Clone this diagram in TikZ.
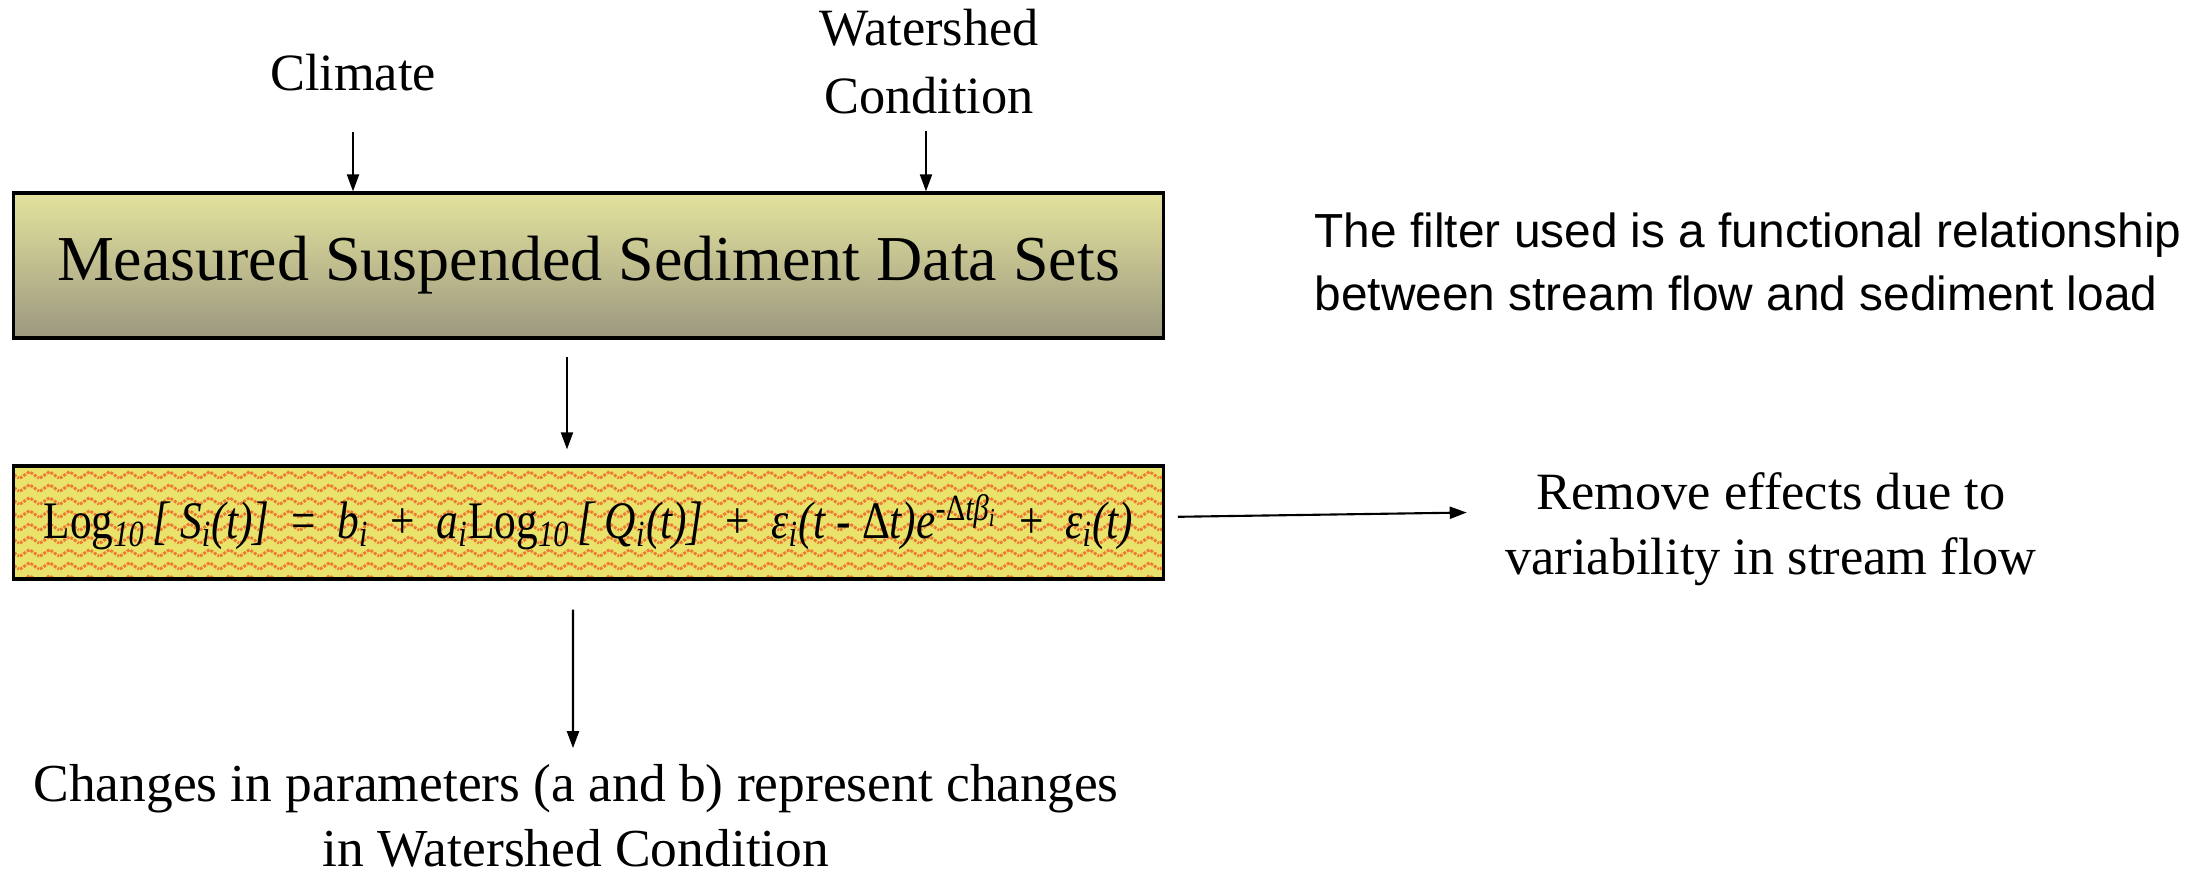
\documentclass[tikz,border=0pt]{standalone}
\usepackage{fontspec}
\setmainfont{Liberation Serif}
\newfontfamily\arialfont{Liberation Sans}
\usetikzlibrary{arrows.meta,patterns}
\definecolor{boxtop}{HTML}{E3E39D}
\definecolor{boxbottom}{HTML}{9C9880}
\definecolor{fyellow}{HTML}{E9E36C}
\definecolor{forange}{HTML}{EF7A32}
\pgfdeclarepatternformonly{zigzag}{\pgfpointorigin}{\pgfqpoint{0.2cm}{0.13cm}}{\pgfqpoint{0.2cm}{0.13cm}}{%
  \pgfsetlinewidth{0.03cm}
  \pgfsetdash{{0.03cm}{0.015cm}}{0cm}
  \pgfpathmoveto{\pgfqpoint{0cm}{0.03cm}}
  \pgfpathlineto{\pgfqpoint{0.1cm}{0.1cm}}
  \pgfpathlineto{\pgfqpoint{0.2cm}{0.03cm}}
  \pgfusepath{stroke}}
\newcommand{\sbi}[1]{\textsubscript{\itshape #1}}
\tikzset{
  arr/.style={-{Triangle[length=0.17cm,width=0.12cm]},line width=0.6pt},
  lbl/.style={font=\fontsize{14.9}{18.5}\selectfont,align=center,inner sep=0pt},
  databox/.style={draw,line width=0.9pt,top color=boxtop,bottom color=boxbottom,
    minimum width=11.49cm,minimum height=1.45cm,font=\fontsize{18.2}{22}\selectfont},
  filterbox/.style={draw,line width=0.9pt,preaction={fill=fyellow},pattern=zigzag,
    pattern color=forange,minimum width=11.49cm,minimum height=1.13cm,inner sep=0pt,
    font=\fontsize{15}{18}\selectfont}
}
\begin{document}
\begin{tikzpicture}[x=0.01cm,y=-0.01cm]
\useasboundingbox (0,0) rectangle (2208,871);
% inputs
\node[lbl] (climate) at (353,73) {Climate};
\node[lbl,font=\fontsize{14.9}{19.3}\selectfont] (shed) at (929,62) {Watershed\\Condition};
% boxes
\node[databox] (data) at (588.5,265.5) {\raisebox{-0.08cm}{Measured Suspended Sediment Data Sets}};
\node[filterbox] (filter) at (588.5,522.5) {\resizebox{10.89cm}{\height}{Log\sbi{10}\,\textit{[ S}\sbi{i}\textit{(t)]}~~=~~\textit{b}\sbi{i}~~+~~\textit{a}\sbi{i}Log\sbi{10}\,\textit{[ Q}\sbi{i}\textit{(t)]}~~+~~\textit{ε}\sbi{i}\textit{(t} - Δ\textit{t)e}\textsuperscript{-Δ\textit{tβ}\sbi{i}}~~+~~\textit{ε}\sbi{i}\textit{(t)}}};
% notes
\node[lbl] (remove) at (1771,529) {Remove effects due to\\variability in stream flow};
\node[lbl,anchor=west,align=left,font=\arialfont\fontsize{13.6}{17.9}\selectfont] (note) at (1314,262) {The filter used is a functional relationship\\between stream flow and sediment load};
\node[lbl,font=\fontsize{15.2}{18.3}\selectfont] (changes) at (576,816) {Changes in parameters (a and b) represent changes\\in Watershed Condition};
% connectors
\draw[arr,shorten <=0.4cm] (climate) -- (climate |- data.north);
\draw[arr,shorten <=0.16cm] (shed.south -| 926,0) -- (926,0 |- data.north);
\draw[arr,shorten <=0.17cm,shorten >=0.15cm] ([xshift=-0.215cm]data.south) -- ([xshift=-0.215cm]filter.north);
\draw[arr,shorten <=0.13cm,shorten >=0.38cm] ([yshift=0.055cm]filter.east) -- ([yshift=0.17cm]remove.west);
\draw[arr,shorten <=0.29cm,shorten >=0.16cm] ([xshift=-0.155cm]filter.south) -- (changes.north -| 573,0);
\end{tikzpicture}
\end{document}
